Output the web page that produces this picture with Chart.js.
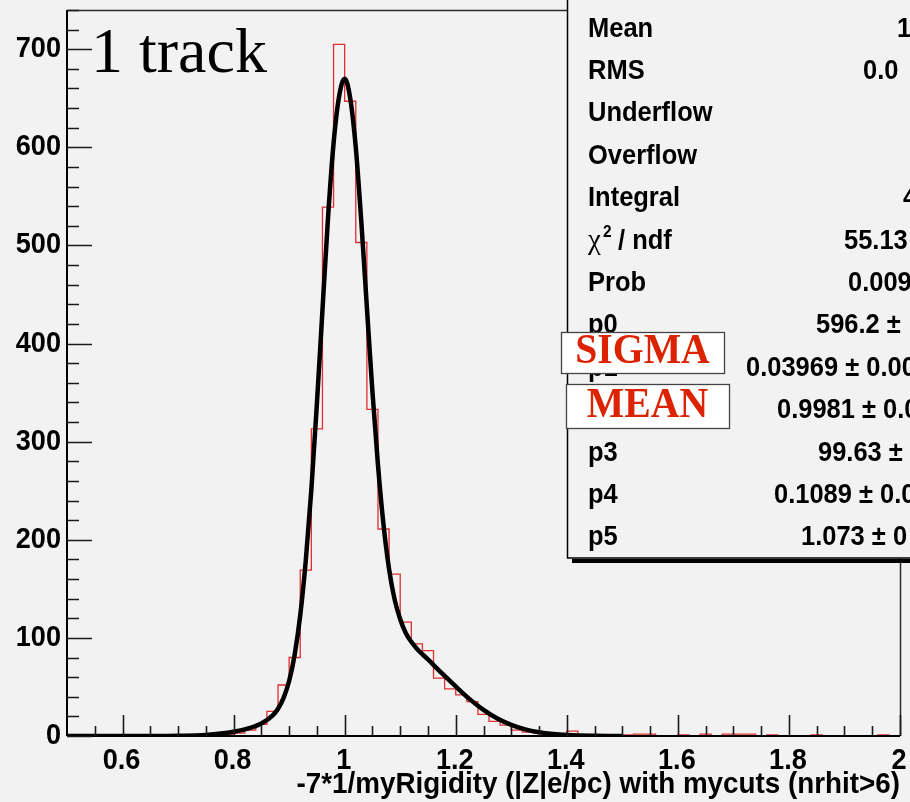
<!DOCTYPE html>
<html>
<head>
<meta charset="utf-8">
<script src="https://cdn.jsdelivr.net/npm/chart.js@4.4.1/dist/chart.umd.min.js"></script>
<style>
  html, body { margin: 0; padding: 0; background: #f2f2f2; }
  #wrap { width: 910px; height: 802px; }
</style>
</head>
<body>
<div id="wrap"><canvas id="myChart" width="910" height="802"></canvas></div>
<script>
    // histogram bin edges (lower edge of each bin, last one closes the last bin)
    const binEdges = [
      0.50, 0.52, 0.54, 0.56, 0.58, 0.60, 0.62, 0.64, 0.66, 0.68,
      0.70, 0.72, 0.74, 0.76, 0.78, 0.80, 0.82, 0.84, 0.86, 0.88,
      0.90, 0.92, 0.94, 0.96, 0.98, 1.00, 1.02, 1.04, 1.06, 1.08,
      1.10, 1.12, 1.14, 1.16, 1.18, 1.20, 1.22, 1.24, 1.26, 1.28,
      1.30, 1.32, 1.34, 1.36, 1.38, 1.40, 1.42, 1.44, 1.46, 1.48,
      1.50, 1.52, 1.54, 1.56, 1.58, 1.60, 1.62, 1.64, 1.66, 1.68,
      1.70, 1.72, 1.74, 1.76, 1.78, 1.80, 1.82, 1.84, 1.86, 1.88,
      1.90, 1.92, 1.94, 1.96, 1.98, 2.00
    ];
    // entries per bin
    const counts = [
      0, 0, 0, 0, 0, 0, 0, 0, 0, 0,
      0, 0, 1, 1, 2, 3, 6, 12, 25, 52,
      80, 169, 313, 539, 705, 647, 503, 333, 211, 165,
      116, 94, 87, 59, 48, 42, 35, 22, 15, 11,
      6, 4, 3, 3, 2, 5, 1, 1, 0, 1,
      1, 2, 2, 0, 0, 1, 0, 2, 0, 2,
      2, 2, 0, 1, 0, 0, 0, 1, 0, 0,
      0, 0, 0, 1, 0
    ];

    // fit curve
    const fitX = [0.50, 0.60, 0.70, 0.75, 0.80, 0.83, 0.85, 0.87, 0.88, 0.89,
                  0.90, 0.91, 0.92, 0.93, 0.94, 0.95, 0.96, 0.97, 0.98, 0.99,
                  1.00, 1.01, 1.02, 1.03, 1.04, 1.05, 1.06, 1.07, 1.08, 1.09,
                  1.10, 1.11, 1.12, 1.13, 1.15, 1.175, 1.20, 1.225, 1.25, 1.275,
                  1.30, 1.325, 1.35, 1.375, 1.40, 1.45, 1.50];
    const fitY = [0, 0, 0.3, 1.1, 4.3, 8.3, 12.8, 20.8, 27.8, 38.9,
                  56, 83, 123, 179, 251, 339, 434, 528, 604, 652,
                  670, 650, 600, 524, 437, 351, 276, 215, 170, 139,
                  119, 105, 96, 89, 78, 64, 50.5, 37.6, 26.6, 17.8,
                  11.4, 6.8, 3.9, 2.1, 1.1, 0.3, 0.05];

    const xTicks = [0.6, 0.8, 1.0, 1.2, 1.4, 1.6, 1.8, 2.0];
    const xTickLabels = ['0.6', '0.8', '1', '1.2', '1.4', '1.6', '1.8', '2'];
    const yTicks = [0, 100, 200, 300, 400, 500, 600, 700];
    const yTickLabels = ['0', '100', '200', '300', '400', '500', '600', '700'];

    const xTitle = '-7*1/myRigidity (|Z|e/pc) with mycuts (nrhit>6)';
    const padTitle = '1 track';

    const statLabels = ['Mean', 'RMS', 'Underflow', 'Overflow', 'Integral', 'χ2 / ndf', 'Prob',
                        'p0', 'p1', 'p2', 'p3', 'p4', 'p5'];
    const statValues = ['1', '0.0', '', '', '4', '55.13', '0.009',
                        '596.2 ±', '0.03969 ± 0.00', '0.9981 ± 0.0', '99.63 ±', '0.1089 ± 0.0', '1.073 ± 0'];
    const boxLabels = ['SIGMA', 'MEAN'];

    const SANS = '"Liberation Sans", Arial, Helvetica, sans-serif';
    const SERIF = '"Liberation Serif", "Times New Roman", Times, serif';

    // text drawn with a slight horizontal squeeze, like the original
    function txt(ctx, s, x, y, font, color, align, sx) {
      ctx.save();
      ctx.font = font;
      ctx.fillStyle = color;
      ctx.textAlign = align || 'left';
      ctx.textBaseline = 'alphabetic';
      ctx.translate(x, y);
      ctx.scale(sx || 1, 1);
      ctx.fillText(s, 0, 0);
      ctx.restore();
    }

    const rootStyle = {
      id: 'rootStyle',
      beforeDraw(chart) {
        const ctx = chart.ctx;
        ctx.save();
        ctx.fillStyle = '#f2f2f2';
        ctx.fillRect(0, 0, chart.width, chart.height);
        ctx.restore();
      },
      afterDraw(chart) {
        const ctx = chart.ctx;
        const a = chart.chartArea;
        const xs = chart.scales.x, ys = chart.scales.y;

        ctx.save();
        // frame
        ctx.strokeStyle = '#2a2a2a';
        ctx.lineWidth = 1.5;
        ctx.beginPath();
        ctx.moveTo(a.left, a.top + 0.5); ctx.lineTo(a.right, a.top + 0.5);
        ctx.moveTo(a.right + 0.5, a.top); ctx.lineTo(a.right + 0.5, a.bottom);
        ctx.stroke();
        ctx.strokeStyle = '#000';
        ctx.lineWidth = 2;
        ctx.beginPath();
        ctx.moveTo(a.left, a.top); ctx.lineTo(a.left, a.bottom);
        ctx.moveTo(a.left, a.bottom); ctx.lineTo(a.right, a.bottom);
        ctx.stroke();

        // tick marks, drawn inside the frame
        ctx.strokeStyle = '#1a1a1a';
        ctx.lineWidth = 1.6;
        ctx.beginPath();
        for (let v = 0; v <= 740; v += 20) {
          const y = Math.round(ys.getPixelForValue(v)) + 0.5;
          if (y < a.top) continue;
          const len = v % 100 === 0 ? 25 : 12;
          ctx.moveTo(a.left, y); ctx.lineTo(a.left + len, y);
        }
        for (let k = 11; k <= 40; k++) {
          const v = k * 0.05;
          const x = Math.round(xs.getPixelForValue(v)) + 0.5;
          const len = k % 4 === 0 ? 21 : 10;
          ctx.moveTo(x, a.bottom); ctx.lineTo(x, a.bottom - len);
        }
        ctx.stroke();
        ctx.restore();

        // tick labels
        const tickFont = 'bold 29px ' + SANS;
        yTicks.forEach((v, i) => {
          txt(ctx, yTickLabels[i], a.left - 6, ys.getPixelForValue(v) + 8, tickFont, '#000', 'right', 0.935);
        });
        xTicks.forEach((v, i) => {
          txt(ctx, xTickLabels[i], xs.getPixelForValue(v) - 1, a.bottom + 33, tickFont, '#000', 'center', 0.935);
        });

        // axis title
        txt(ctx, xTitle, a.right, 793, 'bold 30px ' + SANS, '#000', 'right', 0.927);

        // pad title
        txt(ctx, padTitle, 91, 72, '64px ' + SERIF, '#000', 'left', 1);

        // stats box
        ctx.save();
        const bx = 567, by = -6, bw = 360, bh = 564;
        ctx.fillStyle = '#000';
        ctx.fillRect(bx + 5, by + bh + 1, bw, 4);
        ctx.fillStyle = '#f2f2f2';
        ctx.fillRect(bx, by, bw, bh);
        ctx.strokeStyle = '#000';
        ctx.lineWidth = 1.5;
        ctx.strokeRect(bx + 0.5, by, bw, bh);
        ctx.restore();

        const statFont = 'bold 28px ' + SANS;
        const valueX = [897, 863, 0, 0, 903, 844, 848, 816, 746, 777, 818, 774, 801];
        statLabels.forEach((lab, i) => {
          const y = 36.5 + 42.4 * i;
          if (lab.startsWith('χ')) {
            txt(ctx, 'χ', 588, y, '29px ' + SERIF, '#000', 'left', 1);
            txt(ctx, '2', 603, y - 12, 'bold 17px ' + SANS, '#000', 'left', 0.91);
            txt(ctx, ' / ndf', 611, y, statFont, '#000', 'left', 0.91);
          } else {
            txt(ctx, lab, 588, y, statFont, '#000', 'left', 0.91);
          }
          if (statValues[i]) txt(ctx, statValues[i], valueX[i], y, statFont, '#000', 'left', 0.91);
        });

        // SIGMA / MEAN labels
        const boxes = [[561, 332, 163, 41, 363], [566, 384, 163, 44, 417]];
        boxes.forEach((b, i) => {
          ctx.save();
          ctx.fillStyle = '#ffffff';
          ctx.fillRect(b[0], b[1], b[2], b[3]);
          ctx.strokeStyle = '#444';
          ctx.lineWidth = 1.3;
          ctx.strokeRect(b[0] + 0.5, b[1] + 0.5, b[2], b[3]);
          ctx.restore();
          txt(ctx, boxLabels[i], b[0] + b[2] / 2, b[4], 'bold 42px ' + SERIF, '#dc2300', 'center', 0.945);
        });
      }
    };

    const histData = binEdges.map((x, i) => ({ x, y: counts[Math.min(i, counts.length - 1)] }));
    const fitData = fitX.map((x, i) => ({ x, y: fitY[i] }));

    const config = {
      type: 'line',
      data: {
        datasets: [
          {
            label: 'fit',
            data: fitData,
            borderColor: '#000',
            borderWidth: 4.5,
            pointRadius: 0,
            cubicInterpolationMode: 'monotone',
            order: 0
          },
          {
            label: 'histogram',
            data: histData,
            borderColor: '#e0302f',
            borderWidth: 1.3,
            pointRadius: 0,
            stepped: 'before',
            order: 1
          }
        ]
      },
      options: {
        responsive: false,
        animation: false,
        devicePixelRatio: 1,
        layout: { padding: { top: 10, right: 10, left: 0, bottom: 0 } },
        scales: {
          x: {
            type: 'linear',
            min: 0.5,
            max: 2.0,
            grid: { display: false },
            border: { display: false },
            ticks: { display: false },
            afterFit: (s) => { s.height = 66; }
          },
          y: {
            min: 0,
            max: 740,
            grid: { display: false },
            border: { display: false },
            ticks: { display: false },
            afterFit: (s) => { s.width = 67; }
          }
        },
        plugins: {
          legend: { display: false },
          tooltip: { enabled: false }
        }
      },
      plugins: [rootStyle]
    };

    const myChart = new Chart(document.getElementById('myChart'), config);
</script>
</body>
</html>
